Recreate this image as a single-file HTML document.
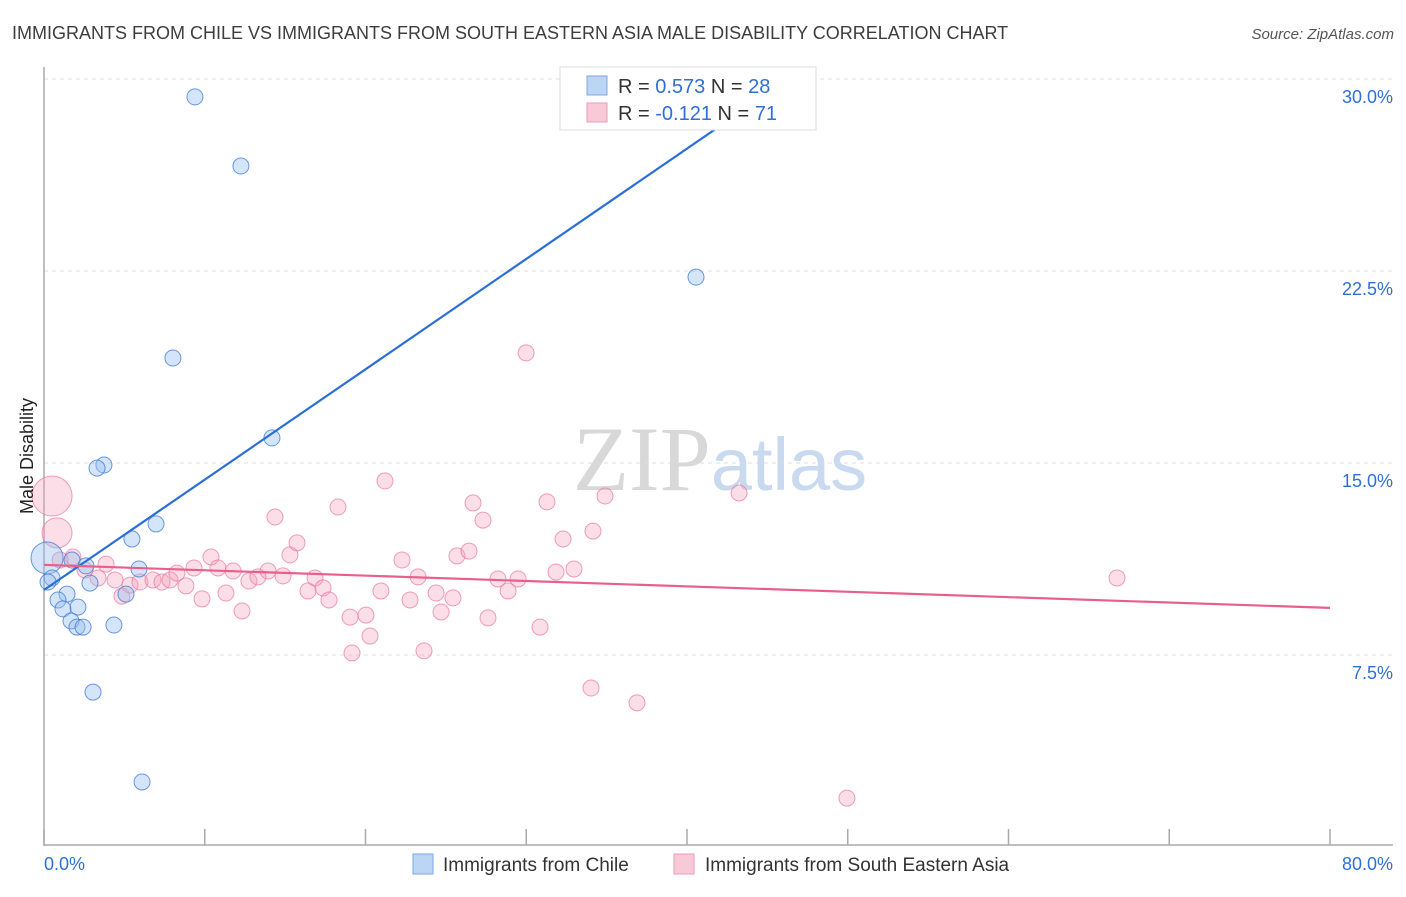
<!DOCTYPE html>
<html><head><meta charset="utf-8"><style>
body{margin:0;background:#fff;font-family:"Liberation Sans",sans-serif;}
</style></head><body>
<svg id="chart" width="1406" height="892" xmlns="http://www.w3.org/2000/svg" font-family="Liberation Sans, sans-serif">
<text x="12" y="39" font-size="18" fill="#3d3d3d">IMMIGRANTS FROM CHILE VS IMMIGRANTS FROM SOUTH EASTERN ASIA MALE DISABILITY CORRELATION CHART</text>
<text x="1394" y="39" font-size="15" fill="#555" text-anchor="end" font-style="italic">Source: ZipAtlas.com</text>
<text x="720" y="490" font-size="92" text-anchor="middle"><tspan fill="#d8d8d8" font-family="Liberation Serif, serif">ZIP</tspan><tspan fill="#c9d9ef" font-size="74">atlas</tspan></text>
<g id="grid"></g>
<g id="axes"></g>
<g id="points"></g>
<g id="trends"></g>
<text transform="translate(33,456) rotate(-90)" font-size="18" fill="#222" text-anchor="middle">Male Disability</text>
<g>
<rect x="560" y="67" width="256" height="63" fill="#fff" stroke="#ddd"/>
<rect x="587" y="76" width="20" height="19" fill="#bcd5f5" stroke="#7aa8e6"/>
<text x="618" y="93" font-size="20" fill="#333">R = <tspan fill="#2f6fd6">0.573</tspan>   N = <tspan fill="#2f6fd6">28</tspan></text>
<rect x="587" y="103" width="20" height="19" fill="#f8c9d7" stroke="#ee9ab4"/>
<text x="618" y="120" font-size="20" fill="#333">R = <tspan fill="#2f6fd6">-0.121</tspan>   N =  <tspan fill="#2f6fd6">71</tspan></text>
</g>
<g>
<rect x="413" y="854" width="20" height="20" fill="#bcd5f5" stroke="#7aa8e6"/>
<text x="443" y="871" font-size="19" fill="#333">Immigrants from Chile</text>
<rect x="674" y="854" width="20" height="20" fill="#f8c9d7" stroke="#ee9ab4"/>
<text x="705" y="871" font-size="19" fill="#333">Immigrants from South Eastern Asia</text>
</g>
</svg>
<script>
const yTicks=[7.5,15,22.5,30];
const yTickLabels=["7.5%","15.0%","22.5%","30.0%"];
const xTickVals=[0,10,20,30,40,50,60,70,80];
const xLabels=["0.0%","80.0%"];
const chileX=[9.39,12.25,40.56,8.02,14.18,3.73,3.30,6.97,5.47,0.19,1.74,2.61,5.91,0.50,0.25,2.86,1.43,5.10,0.87,2.11,1.18,1.68,2.05,2.43,4.35,3.05,6.10];
const chileY=[29.3,26.6,22.26,19.1,15.98,14.92,14.80,12.62,12.03,11.29,11.21,10.98,10.86,10.51,10.35,10.31,9.88,9.88,9.65,9.37,9.30,8.83,8.59,8.59,8.67,6.05,2.54];
const chileR=[8,8,8,8,8,8,8,8,8,16,8,8,8,8,8,8,8,8,8,8,8,8,8,8,8,8,8];
const seaX=[0.50,0.81,1.80,1.00,2.55,3.86,3.36,4.42,4.85,5.35,5.97,6.78,7.34,7.84,8.27,8.83,9.33,9.83,10.39,10.82,11.32,11.76,12.32,12.75,13.31,13.94,14.37,14.87,15.30,15.74,16.42,16.86,17.36,17.73,18.29,19.04,19.16,21.21,20.03,20.28,22.27,20.96,23.27,22.77,24.39,25.44,24.70,23.64,25.69,26.44,26.69,27.31,28.24,28.87,29.49,27.62,31.29,32.29,34.15,34.90,31.85,32.97,30.86,34.03,29.99,36.89,43.24,66.75,49.95];
const seaY=[13.71,12.27,11.33,11.21,10.82,11.05,10.51,10.43,9.80,10.23,10.35,10.43,10.35,10.43,10.70,10.20,10.90,9.69,11.33,10.90,9.92,10.78,9.22,10.39,10.55,10.78,12.89,10.59,11.41,11.88,10.00,10.51,10.12,9.65,13.28,8.98,7.58,14.30,9.06,8.24,11.21,10.00,10.55,9.65,9.92,9.73,9.18,7.66,11.37,11.56,13.44,12.77,10.47,10.00,10.47,8.95,13.48,12.03,12.34,13.71,10.74,10.86,8.59,6.21,19.30,5.63,13.83,10.51,1.91];
const seaR=[20,15].concat(new Array(67).fill(8));
const chileTrend=[10.04,0.431];
const seaTrend=[11.02,-0.021];
const X0=44,X1=1330,Y0=847;
const xs=v=>X0+(v/80)*(X1-X0);
const ys=v=>Y0-v*25.6;
const NS="http://www.w3.org/2000/svg";
function mk(tag,attrs,parent){const e=document.createElementNS(NS,tag);for(const k in attrs)e.setAttribute(k,attrs[k]);document.getElementById(parent).appendChild(e);return e;}
yTicks.forEach((t,i)=>{
 const l=mk('line',{x1:X0,x2:1393,y1:ys(t),y2:ys(t),stroke:'#dcdcdc','stroke-dasharray':'4,4'},'grid');
 
 
 const tx=mk('text',{x:1393,y:ys(t)+24,'font-size':18,fill:'#2f6fd6','text-anchor':'end'},'grid');
 tx.textContent=yTickLabels[i];
 
 
});
const ax=mk('line',{x1:X0,x2:X0,y1:67,y2:846,stroke:'#aaa','stroke-width':1.5},'axes');


const bx=mk('line',{x1:X0,x2:1393,y1:845,y2:845,stroke:'#aaa','stroke-width':1.5},'axes');


xTickVals.forEach(v=>{
 const t=mk('line',{x1:xs(v),x2:xs(v),y1:829,y2:845,stroke:'#aaa','stroke-width':1.5},'axes');
 
 
});
const xl0=mk('text',{x:44,y:870,'font-size':18,fill:'#2f6fd6'},'axes');xl0.textContent=xLabels[0];


const xl1=mk('text',{x:1393,y:870,'font-size':18,fill:'#2f6fd6','text-anchor':'end'},'axes');xl1.textContent=xLabels[1];


seaX.forEach((v,i)=>{
 const c=mk('circle',{cx:xs(v),cy:ys(seaY[i]),r:seaR[i],fill:'rgba(244,160,186,0.35)',stroke:'rgba(232,120,158,0.7)','stroke-width':1},'points');
 
 
});
chileX.forEach((v,i)=>{
 const c=mk('circle',{cx:xs(v),cy:ys(chileY[i]),r:chileR[i],fill:'rgba(150,190,240,0.4)',stroke:'rgba(60,120,210,0.75)','stroke-width':1},'points');
 
 
});
const cEnd=(30-chileTrend[0])/chileTrend[1];
const tl1=mk('line',{x1:xs(0),y1:ys(chileTrend[0]),x2:xs(cEnd),y2:ys(30),stroke:'#2a6fd6','stroke-width':2.2},'trends');


const tl2=mk('line',{x1:xs(0),y1:ys(seaTrend[0]),x2:xs(80),y2:ys(seaTrend[0]+seaTrend[1]*80),stroke:'#e8608a','stroke-width':2.2},'trends');


</script>
</body></html>
